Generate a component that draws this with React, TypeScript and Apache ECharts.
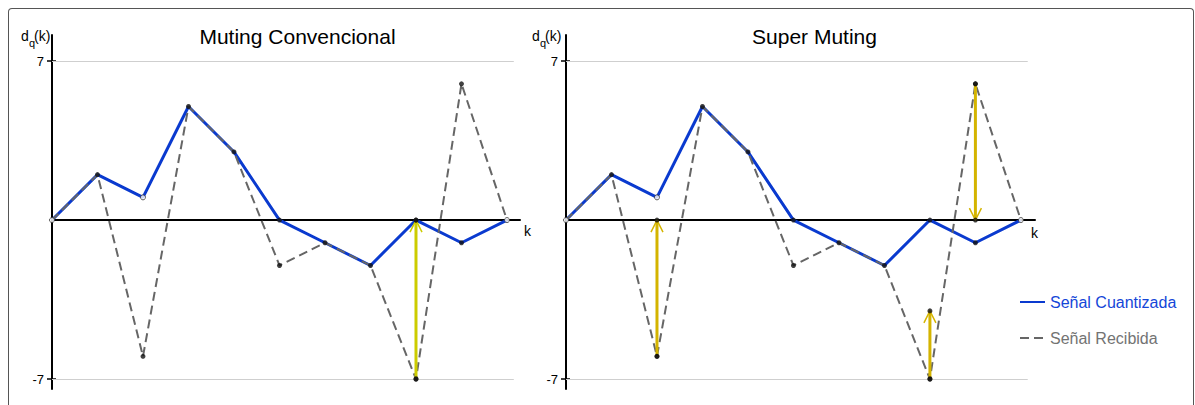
import React, { useEffect, useRef } from 'react';
import * as echarts from 'echarts';

const K = [0, 1, 2, 3, 4, 5, 6, 7, 8, 9, 10];
const quantizedLeft = [0, 2, 1, 5, 3, 0, -1, -2, 0, -1, 0];
const receivedLeft = [0, 2, -6, 5, 3, -2, -1, -2, -7, 6, 0];
const quantizedRight = [0, 2, 1, 5, 3, 0, -1, -2, 0, -1, 0];
const receivedRight = [0, 2, -6, 5, 3, -2, -1, -2, -7, 6, 0];
// [k, from, to]
const arrowsLeft = [[8, -7, 0]];
const arrowsRight = [[2, -6, 0], [8, -7, -4], [9, 6, 0]];
const hollowK = [0, 2, 10];
const yTicks = [-7, 7];
const titles = ['Muting Convencional', 'Super Muting'];
const seriesNames = ['Señal Cuantizada', 'Señal Recibida'];

const FONT = '"Liberation Sans", Arial, Helvetica, sans-serif';
const BLUE = '#0a3acf';
const GRAY = '#666666';

function buildPanel(idx: number, quantized: number[], received: number[], arrows: number[][], arrowColor: string) {
  const q = K.map((k, i) => [k, quantized[i]]);
  const r = K.map((k, i) => [k, received[i]]);
  const hollow = q.filter((p) => hollowK.includes(p[0]));
  const dark: number[][] = q.filter((p) => !hollowK.includes(p[0]));
  received.forEach((v, i) => {
    if (v !== quantized[i]) dark.push([K[i], v]);
  });
  arrows.forEach((a) => {
    dark.push([a[0], a[1]]);
    dark.push([a[0], a[2]]);
  });
  return [
    {
      name: seriesNames[0],
      type: 'line',
      xAxisIndex: idx,
      yAxisIndex: idx * 2,
      data: q,
      symbol: 'none',
      lineStyle: { color: BLUE, width: 3 },
      itemStyle: { color: BLUE },
      z: 3,
      markLine: {
        silent: true,
        symbol: 'none',
        label: { show: false },
        lineStyle: { color: '#cfcfcf', width: 1, type: 'solid' },
        data: yTicks.map((t) => [{ coord: [0, t] }, { coord: [10.15, t] }]),
        z: 1,
      },
    },
    {
      name: seriesNames[1],
      type: 'line',
      xAxisIndex: idx,
      yAxisIndex: idx * 2,
      data: r,
      symbol: 'none',
      lineStyle: { color: GRAY, width: 2, type: [9, 5] },
      itemStyle: { color: GRAY },
      z: 4,
    },
    {
      name: 'arrows' + idx,
      type: 'custom',
      xAxisIndex: idx,
      yAxisIndex: idx * 2,
      data: arrows,
      encode: { x: 0, y: [1, 2] },
      z: 5,
      renderItem: (_params: any, api: any) => {
        const x = api.value(0);
        const p0 = api.coord([x, api.value(1)]);
        const p1 = api.coord([x, api.value(2)]);
        const dir = p1[1] > p0[1] ? 1 : -1;
        return {
          type: 'group',
          children: [
            {
              type: 'line',
              shape: { x1: p0[0], y1: p0[1], x2: p1[0], y2: p1[1] },
              style: { stroke: arrowColor, lineWidth: 3 },
            },
            {
              type: 'polyline',
              shape: {
                points: [
                  [p1[0] - 6, p1[1] - dir * 12],
                  [p1[0], p1[1]],
                  [p1[0] + 6, p1[1] - dir * 12],
                ],
              },
              style: { stroke: arrowColor, lineWidth: 1.5, fill: 'none' },
            },
          ],
        };
      },
    },
    {
      name: 'dark' + idx,
      type: 'scatter',
      xAxisIndex: idx,
      yAxisIndex: idx * 2,
      data: dark,
      symbol: 'circle',
      symbolSize: 5,
      itemStyle: { color: '#111' },
      z: 6,
      silent: true,
    },
    {
      name: 'hollow' + idx,
      type: 'scatter',
      xAxisIndex: idx,
      yAxisIndex: idx * 2,
      data: hollow,
      symbol: 'circle',
      symbolSize: 5,
      itemStyle: { color: '#fff', borderColor: '#333', borderWidth: 1 },
      z: 6,
      silent: true,
    },
  ];
}

function yAxes(gridIndex: number) {
  return [
    {
      type: 'value',
      gridIndex,
      min: -7.44,
      max: 8.15,
      axisLine: { show: true, onZero: false, lineStyle: { color: '#000', width: 2 } },
      axisTick: { show: true, customValues: yTicks, length: 5, lineStyle: { color: '#000', width: 1.5 } },
      axisLabel: { show: true, customValues: yTicks, margin: 8, color: '#000', fontSize: 13, fontFamily: FONT },
      splitLine: { show: false },
    },
    {
      type: 'value',
      gridIndex,
      min: -7.44,
      max: 8.15,
      position: 'left',
      axisLine: { show: false },
      axisTick: { show: true, inside: true, customValues: yTicks, length: 4, lineStyle: { color: '#000', width: 1.5 } },
      axisLabel: { show: false },
      splitLine: { show: false },
    },
  ];
}

function dqLabel(x: number) {
  return [
    { type: 'text', left: x, top: 29, style: { text: 'd', font: `14px ${FONT}`, fill: '#000' } },
    { type: 'text', left: x + 8, top: 37, style: { text: 'q', font: `11px ${FONT}`, fill: '#000' } },
    { type: 'text', left: x + 13, top: 29, style: { text: '(k)', font: `14px ${FONT}`, fill: '#000' } },
  ];
}

export default function App() {
  const ref = useRef<HTMLDivElement>(null);
  useEffect(() => {
    document.body.style.overflow = 'hidden';
    if (!ref.current) return;
    const chart = echarts.init(ref.current, undefined, { renderer: 'svg' });
    const option: any = {
      animation: false,
      grid: [
        { left: 52, right: 675, top: 35, bottom: 16 },
        { left: 566, right: 160, top: 35, bottom: 16 },
      ],
      xAxis: [0, 1].map((g) => ({
        type: 'value',
        gridIndex: g,
        min: 0,
        max: g === 0 ? 10.286 : 10.31,
        axisLine: { show: true, onZero: true, lineStyle: { color: '#000', width: 2 } },
        axisTick: { show: false },
        axisLabel: { show: false },
        splitLine: { show: false },
      })),
      yAxis: [...yAxes(0), ...yAxes(1)],
      legend: {
        orient: 'vertical',
        left: 1014,
        top: 289,
        itemWidth: 25,
        itemHeight: 14,
        itemGap: 20,
        itemStyle: { opacity: 0 },
        textStyle: { fontSize: 16, fontFamily: FONT },
        data: [
          { name: seriesNames[0], textStyle: { color: '#1446d8' } },
          { name: seriesNames[1], textStyle: { color: '#737373' } },
        ],
      },
      graphic: [
        {
          type: 'text',
          x: 297.5,
          y: 36,
          style: { text: titles[0], font: `21px ${FONT}`, fill: '#000', textAlign: 'center', textVerticalAlign: 'middle' },
        },
        {
          type: 'text',
          x: 814.5,
          y: 36,
          style: { text: titles[1], font: `21px ${FONT}`, fill: '#000', textAlign: 'center', textVerticalAlign: 'middle' },
        },
        ...dqLabel(21),
        ...dqLabel(532),
        { type: 'text', left: 524, top: 224, style: { text: 'k', font: `14px ${FONT}`, fill: '#000' } },
        { type: 'text', left: 1031, top: 226, style: { text: 'k', font: `14px ${FONT}`, fill: '#000' } },
      ],
      series: [
        ...buildPanel(0, quantizedLeft, receivedLeft, arrowsLeft, '#cccc00'),
        ...buildPanel(1, quantizedRight, receivedRight, arrowsRight, '#d4b400'),
      ],
    };
    chart.setOption(option);
    return () => chart.dispose();
  }, []);
  return (
    <div style={{ position: 'fixed', left: 0, top: 0, width: 1195, height: 405, overflow: 'hidden', background: '#fff' }}>
      <div
        style={{
          position: 'absolute',
          left: 8,
          top: 8,
          width: 1184,
          height: 397,
          borderTop: '1px solid #555',
          borderLeft: '1px solid #555',
          borderRight: '1px solid #555',
          borderTopLeftRadius: 4,
          borderTopRightRadius: 4,
          boxSizing: 'content-box',
        }}
      />
      <div ref={ref} style={{ position: 'absolute', left: 0, top: 0, width: 1195, height: 405 }} />
    </div>
  );
}
